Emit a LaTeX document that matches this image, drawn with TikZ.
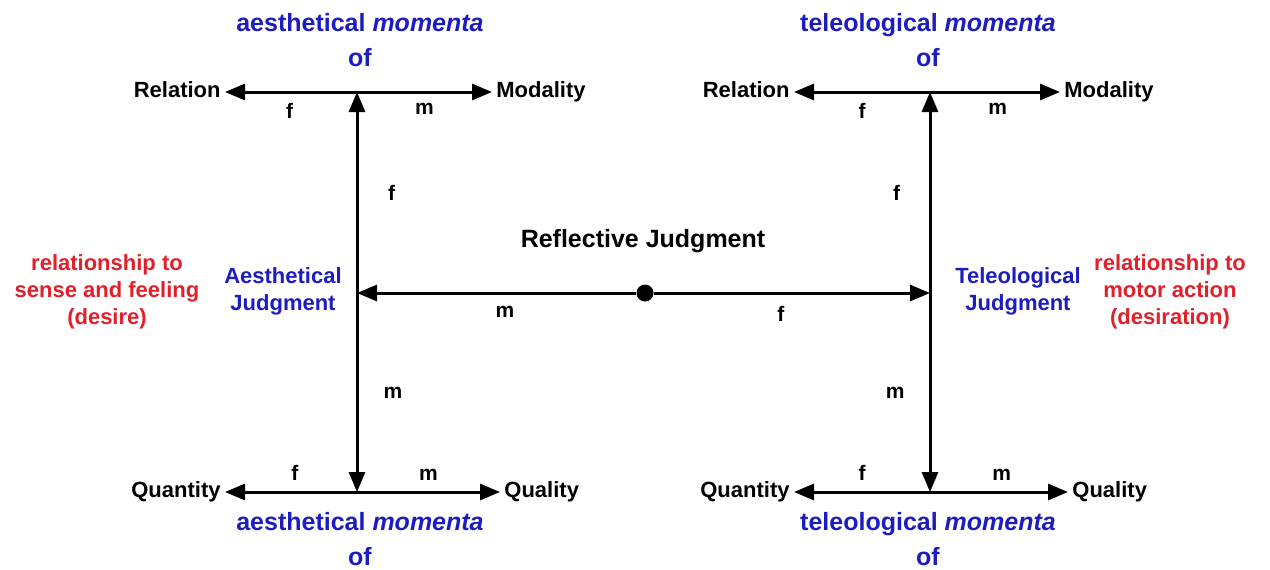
\documentclass[tikz,border=0pt]{standalone}
\usepackage{fontspec}
\setmainfont{Liberation Sans}
\usepackage{xcolor}
\usetikzlibrary{arrows.meta,positioning}
\definecolor{judg}{HTML}{1c1cc0}
\definecolor{rel}{HTML}{e0202a}
\definecolor{ink}{HTML}{000000}

\begin{document}
\begin{tikzpicture}[
  x=0.5pt, y=-0.5pt,
  cat/.style={font=\fontsize{11}{13}\selectfont\bfseries, text=ink, inner sep=2pt},
  lbl/.style={font=\fontsize{10.5}{12}\selectfont\bfseries, text=ink, inner sep=1pt, minimum width=10pt},
  momenta/.style={font=\fontsize{12.5}{17.5}\selectfont\bfseries, text=judg, align=center},
  judgname/.style={font=\fontsize{11}{13.5}\selectfont\bfseries, text=judg, align=center},
  relname/.style={font=\fontsize{11}{13.5}\selectfont\bfseries, text=rel, align=center},
  arr/.style={-{Triangle[length=10pt,width=8pt]}, line width=1.5pt, color=ink}
]
\useasboundingbox (0,0) rectangle (1270,569);

% Junctions
\coordinate (atop) at (357,92);
\coordinate (abot) at (357,492);
\coordinate (aj) at (357,293);
\coordinate (ttop) at (930,92);
\coordinate (tbot) at (930,492);
\coordinate (tj) at (930,293);
\node[circle, fill=ink, inner sep=0pt, minimum size=8.5pt] (rj) at (645,293) {};

% Aesthetical side
\node[momenta] (amtop) at (360,40) {aesthetical \textit{momenta}\\of};
\node[momenta] (ambot) at (360,539) {aesthetical \textit{momenta}\\of};
\node[cat, anchor=base east] (arelation) at (225,97) {Relation};
\node[cat, anchor=base west] (amodality) at (492,97) {Modality};
\node[cat, anchor=base east] (aquantity) at (225,497) {Quantity};
\node[cat, anchor=base west] (aquality) at (500,497) {Quality};
\node[judgname] (ajudg) at (283,291) {Aesthetical\\Judgment};
\node[relname] (arel) at (107,292) {relationship to\\sense and feeling\\(desire)};

% Teleological side
\node[momenta] (tmtop) at (928,40) {teleological \textit{momenta}\\of};
\node[momenta] (tmbot) at (928,539) {teleological \textit{momenta}\\of};
\node[cat, anchor=base east] (trelation) at (794,97) {Relation};
\node[cat, anchor=base west] (tmodality) at (1060,97) {Modality};
\node[cat, anchor=base east] (tquantity) at (794,497) {Quantity};
\node[cat, anchor=base west] (tquality) at (1068,497) {Quality};
\node[judgname] (tjudg) at (1018,291) {Teleological\\Judgment};
\node[relname] (trel) at (1170,292) {relationship to\\motor action\\(desiration)};

% Reflective
\node[momenta, text=ink] (refl) at (643,241) {Reflective Judgment};

% Connectors
\draw[arr] (atop) -- node[lbl, pos=0.51, below=4pt] {f} (atop -| arelation.east);
\draw[arr] (atop) -- node[lbl, pos=0.5, below=4pt] {m} (atop -| amodality.west);
\draw[arr] (abot) -- node[lbl, pos=0.47, above=4pt] {f} (abot -| aquantity.east);
\draw[arr] (abot) -- node[lbl, pos=0.5, above=4pt] {m} (abot -| aquality.west);
\draw[arr] (aj) -- node[lbl, pos=0.5, right=11.5pt] {f} (atop);
\draw[arr] (aj) -- node[lbl, pos=0.5, right=11.5pt] {m} (abot);

\draw[arr] (ttop) -- node[lbl, pos=0.5, below=4pt] {f} (ttop -| trelation.east);
\draw[arr] (ttop) -- node[lbl, pos=0.52, below=4pt] {m} (ttop -| tmodality.west);
\draw[arr] (tbot) -- node[lbl, pos=0.5, above=4pt] {f} (tbot -| tquantity.east);
\draw[arr] (tbot) -- node[lbl, pos=0.52, above=4pt] {m} (tbot -| tquality.west);
\draw[arr] (tj) -- node[lbl, pos=0.5, left=11pt] {f} (ttop);
\draw[arr] (tj) -- node[lbl, pos=0.5, left=11pt] {m} (tbot);

\draw[arr] (rj) -- node[lbl, pos=0.47, below=5pt] {m} (aj);
\draw[arr] (rj) -- node[lbl, pos=0.46, below=5pt] {f} (tj);
\end{tikzpicture}
\end{document}
